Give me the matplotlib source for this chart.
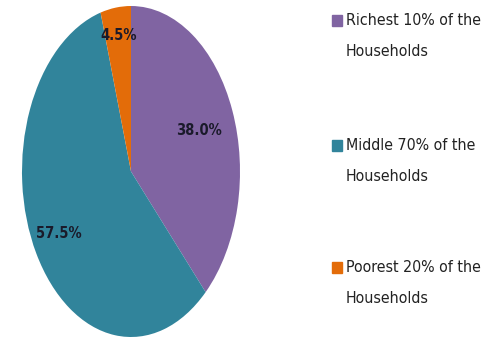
import numpy as np
import matplotlib
matplotlib.use("Agg")
import matplotlib.pyplot as plt
from matplotlib.patches import Rectangle
from matplotlib import font_manager

# household income shares
groups = ['Richest 10% of the\nHouseholds', 'Middle 70% of the\nHouseholds', 'Poorest 20% of the\nHouseholds']
shares = [38.0, 57.5, 4.5]
colors = ['#8064A2', '#31849B', '#E36C09']
label_dist = [0.67, 0.76, 0.83]  # radial placement of each % label

# pick a narrow face if there is one (reference looks like squeezed Calibri)
fl = font_manager.fontManager.ttflist
if any(f.name == 'Liberation Sans Narrow' for f in fl):
    fam, stretch, leg_fs, pct_fs, lsp = 'Liberation Sans Narrow', 'normal', 13, 12.5, 2.0
elif any(f.name == 'DejaVu Sans' and f.stretch == 'condensed' for f in fl):
    fam, stretch, leg_fs, pct_fs, lsp = 'DejaVu Sans', 'condensed', 11.4, 10.5, 2.35
else:
    fam, stretch, leg_fs, pct_fs, lsp = 'Lato', 'normal', 11.5, 11.5, 2.0
plt.rcParams['font.family'] = [fam, 'DejaVu Sans']

fig = plt.figure(figsize=(4.9, 3.39), dpi=100)
ax = fig.add_axes([22/490, 2/339, 218/490, 331/339])

wedges, _ = ax.pie(shares, colors=colors, startangle=90, counterclock=False,
                   wedgeprops=dict(linewidth=0))
for w, val, d in zip(wedges, shares, label_dist):
    ang = np.deg2rad((w.theta1 + w.theta2) / 2)
    ax.text(d*np.cos(ang), d*np.sin(ang), '%.1f%%' % val, ha='center', va='center',
            fontsize=pct_fs, fontweight='bold', fontstretch=stretch, color='#1a1a2a')
ax.set_aspect('auto')
ax.set_xlim(-1, 1)
ax.set_ylim(-1, 1)
ax.axis('off')

# legend on the right, square next to first line of each entry
ytop = [14, 139, 261]
for y, c, g in zip(ytop, colors, groups):
    fig.patches.append(Rectangle((332/490, 1 - (y+12)/339), 10/490, 11/339,
                                 transform=fig.transFigure, color=c))
    fig.text(346/490, 1 - (y-1)/339, g, ha='left', va='top', fontsize=leg_fs,
             fontstretch=stretch, color='#222222', linespacing=lsp)

fig.savefig('out.png', dpi=100)
